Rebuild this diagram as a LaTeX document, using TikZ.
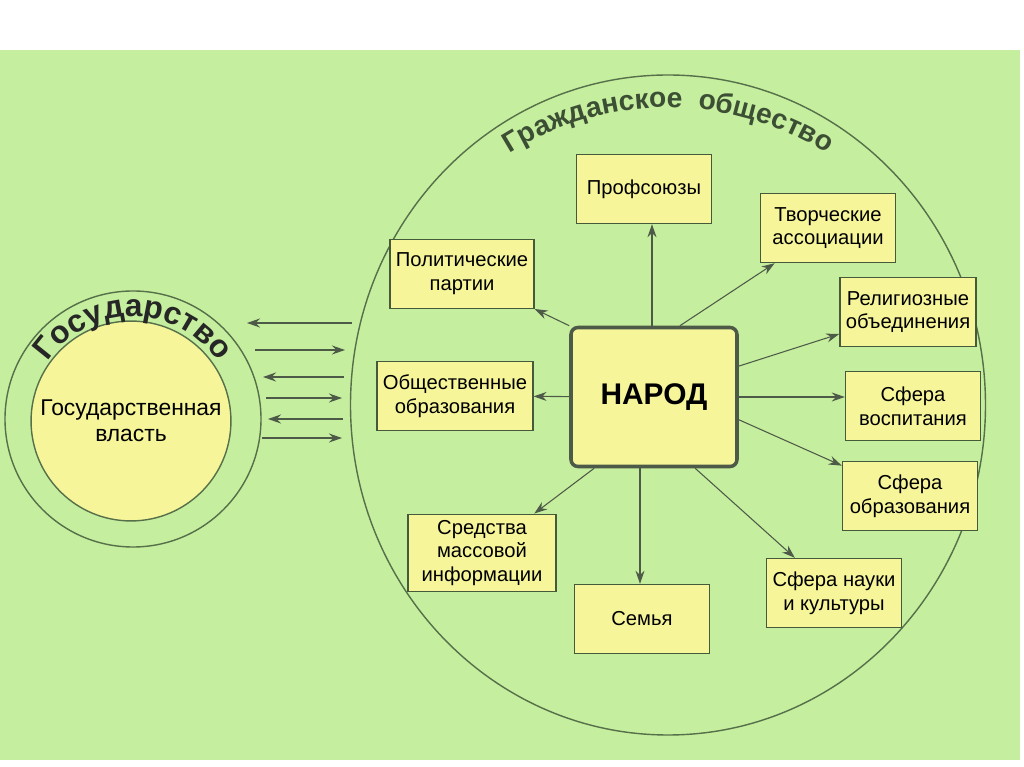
\documentclass[tikz,border=0pt]{standalone}
\usepackage{fontspec}
\setmainfont{Liberation Sans}
\usetikzlibrary{arrows.meta,decorations.text}
\definecolor{bggreen}{HTML}{C5EE9E}
\definecolor{boxyellow}{HTML}{F6F59A}
\definecolor{linegreen}{HTML}{56704A}
\definecolor{arrowgray}{HTML}{4E5A48}
\begin{document}
\begin{tikzpicture}[>={Stealth[length=2.6mm, width=1.8mm]}]
    \useasboundingbox (0,0) rectangle (20.48,-15.34);
    \fill[white] (0,0) rectangle (20.48,-15.34);
    \fill[bggreen] (0,-1.0) rectangle (20.4,-15.2);
    % circles
    \draw[linegreen, thick] (13.36,-8.1) ellipse [x radius=6.35, y radius=6.6];
    \draw[linegreen, thick] (2.66,-8.38) circle (2.56);
    \node[circle, draw=linegreen, thick, fill=boxyellow, minimum size=3.6cm, align=center, font=\fontsize{13}{15}\selectfont] (power) at (2.62,-8.42) {Государственная\\власть};
    % curved titles
    \path[decorate, decoration={text along path, text align=center,
        text={|\fontsize{16}{16}\selectfont\bfseries\color{linegreen!70!black}|Гражданское{ }{ }общество}}]
        (13.36,-8.1) ++(130:5.95) arc[start angle=130, end angle=50, radius=5.95];
    \path[decorate, decoration={text along path, text align=center,
        text={|\fontsize{18}{18}\selectfont\bfseries\color{black!85}|Государство}}]
        (2.66,-8.38) ++(165:2.05) arc[start angle=165, end angle=15, radius=2.05];
    \begin{scope}
        \tikzstyle{every node}=[fill=boxyellow, draw=linegreen!80!black, rectangle, thick, align=center,
            minimum width=2.7cm, minimum height=1.38cm, font=\fontsize{11.5}{13.5}\selectfont]
        \node (prof) at (12.88,-3.78) {Профсоюзы};
        \node (tvor) at (16.56,-4.56) {Творческие\\ассоциации};
        \node[minimum width=2.8cm] (polit) at (9.24,-5.48) {Политические\\партии};
        \node (relig) at (18.16,-6.24) {Религиозные\\объединения};
        \node[minimum width=2.96cm] (obsch) at (9.1,-7.92) {Общественные\\образования};
        \node[rounded corners=4pt, line width=2pt, draw=arrowgray, minimum width=3.32cm, minimum height=2.78cm,
            font=\fontsize{17}{19}\selectfont\bfseries] (narod) at (13.08,-7.94) {НАРОД};
        \node (vosp) at (18.26,-8.12) {Сфера\\воспитания};
        \node (obraz) at (18.2,-9.92) {Сфера\\образования};
        \node[minimum width=2.96cm, minimum height=1.4cm] (smi) at (9.64,-11.06) {Средства\\массовой\\информации};
        \node (semya) at (12.84,-12.38) {Семья};
        \node (nauka) at (16.68,-11.86) {Сфера науки\\и культуры};
    \end{scope}
    \begin{scope}
        \tikzstyle{every edge}=[draw, arrowgray, semithick, ->]
        \path
        (narod.north -| 13.04,0) edge (prof.south -| 13.04,0)
        (narod.north west) edge (polit)
        (narod.70) edge (tvor)
        (narod.20) edge (relig)
        (narod) edge (obsch)
        (narod) edge (vosp.west |- narod)
        (narod.-15) edge (obraz)
        (narod.-60) edge (nauka)
        (narod.south -| 12.8,0) edge (semya.north -| 12.8,0)
        (narod.-130) edge (smi)
        ;
    \end{scope}
    % links between the state and society
    \foreach \y/\l/\r/\dir [count=\i] in {6.46/4.94/7.04/<-, 7.0/5.1/6.9/->, 7.54/5.26/6.88/<-,
        7.96/5.32/6.84/->, 8.38/5.36/6.86/<-, 8.76/5.24/6.84/->} {
        \coordinate (s\i) at (\l,-\y);
        \coordinate (c\i) at (\r,-\y);
        \draw[arrowgray, semithick, \dir] (s\i) -- (c\i);
    }
\end{tikzpicture}
\end{document}
